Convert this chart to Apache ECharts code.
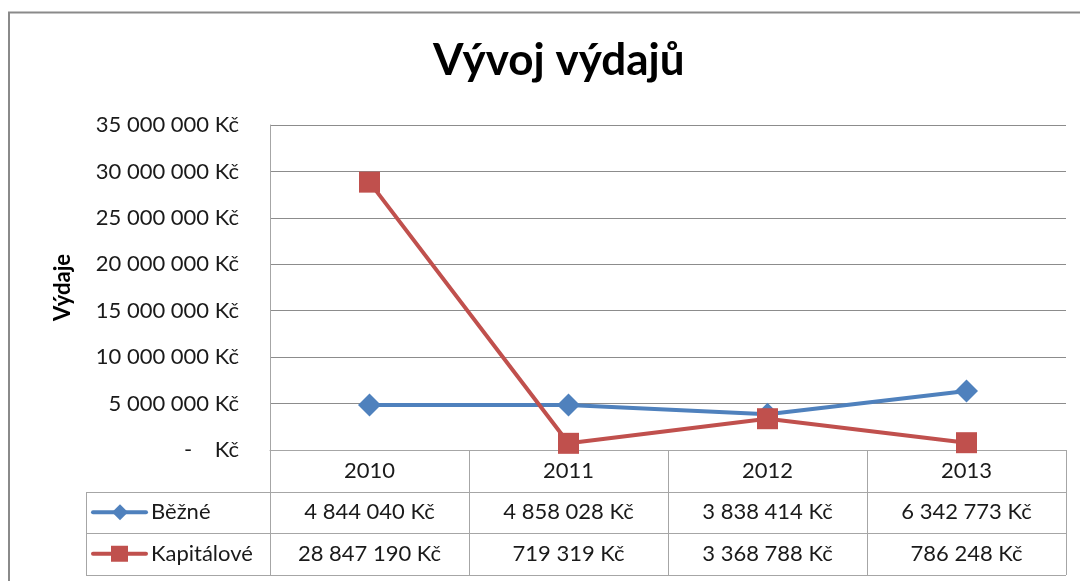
<!DOCTYPE html>
<html>
<head>
<meta charset="utf-8">
<script src="https://cdn.jsdelivr.net/npm/echarts@6/dist/echarts.min.js"></script>
<style>
  html, body { margin: 0; padding: 0; background: #fff; }
  #chart { width: 1080px; height: 581px; }
</style>
</head>
<body>
<div id="chart"></div>
<script>
// Expenditure by year, two series
const years = ['2010', '2011', '2012', '2013'];
const seriesNames = ['Běžné', 'Kapitálové'];
const bezne = [4844040, 4858028, 3838414, 6342773];
const kapitalove = [28847190, 719319, 3368788, 786248];
const yTicks = { min: 0, max: 35000000, interval: 5000000 };

const FONT = 'Lato, "Open Sans", sans-serif';
const FS = 22;
const BLUE = '#4F81BD';
const RED = '#C0504D';
const GRID_LINE = '#8c8c8c';
const TABLE_LINE = '#a6a6a6';
const TEXT = '#1a1a1a';

// plot area
const G = { left: 270, top: 125, width: 796, height: 325 };
const tableLeft = 86;
const rowH = 41.5;

function czk(v) {
  if (v === 0) return '-    Kč';
  return String(Math.round(v)).replace(/\B(?=(\d{3})+(?!\d))/g, ' ') + ' Kč';
}

const chart = echarts.init(document.getElementById('chart'));

// data table rows below the category axis
function tableGraphics() {
  const els = [];
  const bottom = G.top + G.height;
  const right = G.left + G.width;
  const colW = G.width / years.length;
  const rows = [bezne, kapitalove];
  const colors = [BLUE, RED];
  // horizontal rules
  for (let r = 1; r <= 3; r++) {
    const y = Math.round(bottom + rowH * r) + 0.5;
    els.push({ type: 'line', shape: { x1: tableLeft, y1: y, x2: right, y2: y },
      style: { stroke: TABLE_LINE, lineWidth: 1 }, silent: true });
  }
  // left edge of the legend column
  els.push({ type: 'line', shape: { x1: tableLeft + 0.5, y1: Math.round(bottom + rowH) + 0.5, x2: tableLeft + 0.5, y2: Math.round(bottom + rowH * 3) + 0.5 },
    style: { stroke: TABLE_LINE, lineWidth: 1 }, silent: true });
  rows.forEach((vals, r) => {
    const cy = bottom + rowH * (r + 1) + rowH / 2;
    // legend key
    els.push({ type: 'line', shape: { x1: 93, y1: cy, x2: 146, y2: cy },
      style: { stroke: colors[r], lineWidth: 4, lineCap: 'round' }, silent: true });
    if (r === 0) {
      els.push({ type: 'polygon', shape: { points: [[120, cy - 8], [128, cy], [120, cy + 8], [112, cy]] },
        style: { fill: colors[r] }, silent: true });
    } else {
      els.push({ type: 'rect', shape: { x: 111, y: cy - 8, width: 17, height: 16 },
        style: { fill: colors[r] }, silent: true });
    }
    els.push({ type: 'text', style: { text: seriesNames[r], x: 151, y: cy, fill: TEXT,
      font: FS + 'px ' + FONT, textAlign: 'left', textVerticalAlign: 'middle' }, silent: true });
    vals.forEach((v, c) => {
      els.push({ type: 'text', style: { text: czk(v), x: G.left + colW * (c + 0.5), y: cy, fill: TEXT,
        font: FS + 'px ' + FONT, textAlign: 'center', textVerticalAlign: 'middle' }, silent: true });
    });
  });
  // outer chart border
  els.push({ type: 'rect', shape: { x: 9, y: 12.5, width: 1100, height: 600 },
    style: { fill: 'none', stroke: '#8a8a8a', lineWidth: 2 }, silent: true });
  return els;
}

chart.setOption({
  animation: false,
  backgroundColor: '#fff',
  title: {
    text: 'Vývoj výdajů',
    left: 428,
    top: 34,
    textStyle: { fontFamily: FONT, fontSize: 44, fontWeight: 'bold', color: '#000' }
  },
  grid: { left: G.left, top: G.top, width: G.width, height: G.height, containLabel: false },
  xAxis: {
    type: 'category',
    data: years,
    boundaryGap: true,
    axisLine: { show: true, lineStyle: { color: TABLE_LINE, width: 1 } },
    axisTick: { show: true, length: Math.round(rowH * 3), lineStyle: { color: TABLE_LINE, width: 1 } },
    axisLabel: { fontFamily: FONT, fontSize: FS, color: TEXT, margin: 10 },
    splitLine: { show: false }
  },
  yAxis: {
    type: 'value',
    min: yTicks.min,
    max: yTicks.max,
    interval: yTicks.interval,
    name: 'Výdaje',
    nameLocation: 'middle',
    nameRotate: 90,
    nameGap: 196,
    nameTextStyle: { fontFamily: FONT, fontSize: 22, fontWeight: 'bold', color: '#000' },
    axisLine: { show: true, lineStyle: { color: TABLE_LINE, width: 1 } },
    axisTick: { show: false },
    axisLabel: { fontFamily: FONT, fontSize: FS, color: TEXT, margin: 31, formatter: czk },
    splitLine: { show: true, lineStyle: { color: GRID_LINE, width: 1 } }
  },
  series: [
    {
      name: seriesNames[0], type: 'line', data: bezne,
      symbol: 'diamond', symbolSize: 23,
      itemStyle: { color: BLUE }, lineStyle: { color: BLUE, width: 4 }, z: 3
    },
    {
      name: seriesNames[1], type: 'line', data: kapitalove,
      symbol: 'rect', symbolSize: 21,
      itemStyle: { color: RED }, lineStyle: { color: RED, width: 4 }, z: 4
    }
  ],
  graphic: tableGraphics()
});
</script>
</body>
</html>
